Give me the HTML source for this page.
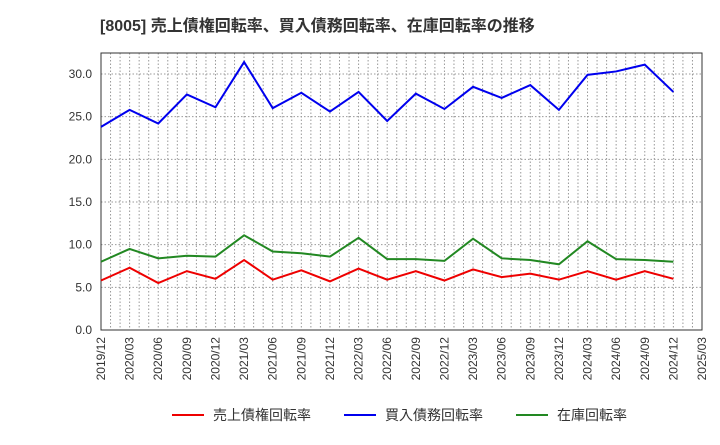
<!DOCTYPE html>
<html><head><meta charset="utf-8"><style>
body{margin:0;background:#fff;font-family:"Liberation Sans","Noto Sans CJK JP",sans-serif}
</style></head><body>
<svg id="c" width="720" height="440" xmlns="http://www.w3.org/2000/svg"></svg>
<script>
const categories=["2019/12","2020/03","2020/06","2020/09","2020/12","2021/03","2021/06","2021/09","2021/12","2022/03","2022/06","2022/09","2022/12","2023/03","2023/06","2023/09","2023/12","2024/03","2024/06","2024/09","2024/12","2025/03"];
const receivables=[5.8,7.3,5.5,6.9,6.0,8.2,5.9,7.0,5.7,7.2,5.9,6.9,5.8,7.1,6.2,6.6,5.9,6.9,5.9,6.9,6.0];
const payables=[23.8,25.8,24.2,27.6,26.1,31.4,26.0,27.8,25.6,27.9,24.5,27.7,25.9,28.5,27.2,28.7,25.8,29.9,30.3,31.1,27.9];
const inventory=[8.0,9.5,8.4,8.7,8.6,11.1,9.2,9.0,8.6,10.8,8.3,8.3,8.1,10.7,8.4,8.2,7.7,10.4,8.3,8.2,8.0];
const yTicks=[0,5,10,15,20,25,30];
const yTickLabels=["0.0","5.0","10.0","15.0","20.0","25.0","30.0"];
const L=101,R=702,T=53,B=330,ns="http://www.w3.org/2000/svg",svg=document.getElementById('c');
const x=i=>L+(R-L)*i/(categories.length-1);
const y=v=>B-(B-74)*v/30;
function mk(t,a,p){const e=document.createElementNS(ns,t);for(const k in a)e.setAttribute(k,a[k]);(p||svg).appendChild(e);return e;}
const title=mk('text',{x:100,y:31,'font-size':16,'font-weight':'bold',fill:'#333'});


title.textContent='[8005]  売上債権回転率、買入債務回転率、在庫回転率の推移';
const g=mk('g',{});


for(let m=1;m<(categories.length-1)*3;m++){const xx=L+(R-L)*m/((categories.length-1)*3);mk('line',{x1:xx,x2:xx,y1:T,y2:B,stroke:'#999','stroke-dasharray':'1.5,2','stroke-width':1},g);}
yTicks.forEach((v,i)=>{if(v>0)mk('line',{x1:L,x2:R,y1:y(v),y2:y(v),stroke:'#999','stroke-dasharray':'1.5,2'},g);
const t=mk('text',{x:92,y:y(v)+4,'font-size':12,'text-anchor':'end',fill:'#333'});


t.textContent=yTickLabels[i];});
categories.forEach((c,i)=>{const t=mk('text',{transform:`translate(${x(i)+4},337) rotate(-90)`,'font-size':12,'text-anchor':'end',fill:'#333'});


t.textContent=c;});
const fr=mk('rect',{x:L,y:T,width:R-L,height:B-T,fill:'none',stroke:'#333'});


const series=[[receivables,'#e00','receivables-line'],[payables,'#00e','payables-line'],[inventory,'#282','inventory-line']];
series.forEach(([d,c,n])=>{const p=mk('polyline',{points:d.map((v,i)=>x(i)+','+y(v)).join(' '),fill:'none',stroke:c,'stroke-width':2});

});
const leg=[['売上債権回転率','#e00',172],['買入債務回転率','#00e',344],['在庫回転率','#282',516]];
leg.forEach(([t,c,lx])=>{const gg=mk('g',{});


mk('line',{x1:lx,x2:lx+32,y1:415,y2:415,stroke:c,'stroke-width':2},gg);
const tt=mk('text',{x:lx+41,y:420,'font-size':14,fill:'#333'},gg);tt.textContent=t;});
</script></body></html>
